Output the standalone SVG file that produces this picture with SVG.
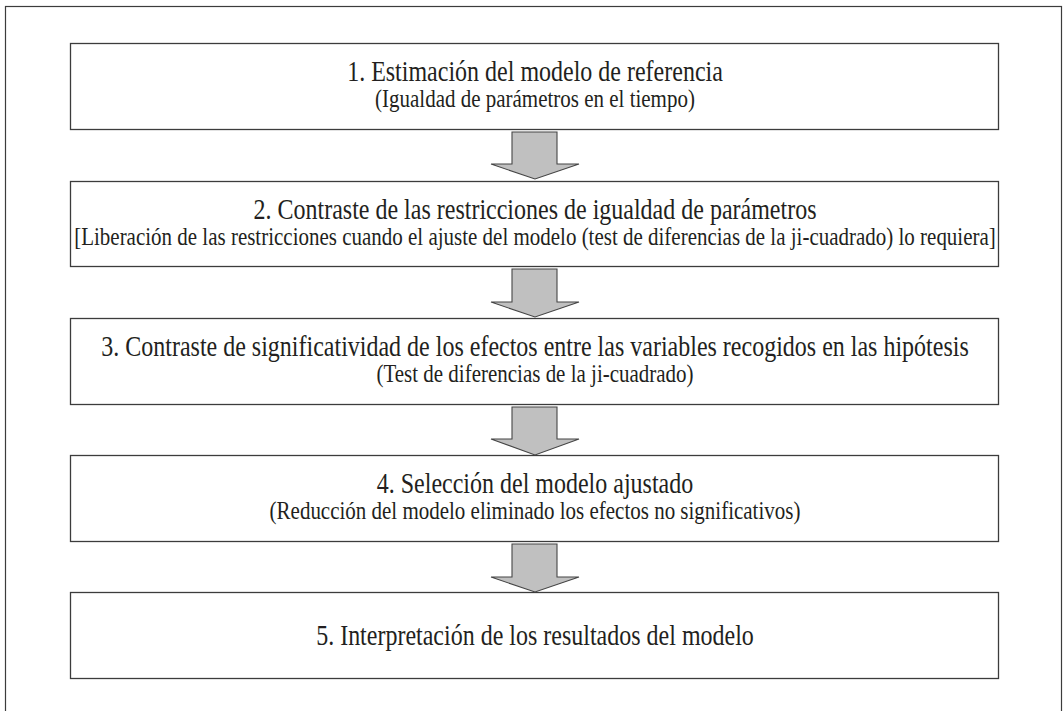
<svg xmlns="http://www.w3.org/2000/svg" width="1064" height="711" viewBox="0 0 1064 711">
<style>
.frame{fill:#fff;stroke:#3c3c3c;stroke-width:1.2}
.box{fill:#fff;stroke:#3c3c3c;stroke-width:1.3}
.arrow{fill:#c0c0c0;stroke:#454545;stroke-width:1.1;stroke-linejoin:miter}
text{font-family:'Liberation Serif','Times New Roman',Times,serif;fill:#231f20;text-anchor:middle}
.h{font-size:24px}
.s{font-size:21px}
</style>
<rect class="frame" x="5.5" y="6.5" width="1056" height="720"/>
<g id="node1">
<rect class="box" x="70.5" y="43.5" width="928" height="86"/>
<text class="h" transform="translate(535,81) scale(1,1.2)">1. Estimación del modelo de referencia</text>
<text class="s" transform="translate(535,107) scale(1,1.15)">(Igualdad de parámetros en el tiempo)</text>
</g>
<g id="node2">
<rect class="box" x="70.5" y="181.5" width="928" height="85"/>
<text class="h" transform="translate(535,219) scale(1,1.2)">2. Contraste de las restricciones de igualdad de parámetros</text>
<text class="s" transform="translate(535,245) scale(1,1.15)">[Liberación de las restricciones cuando el ajuste del modelo (test de diferencias de la ji-cuadrado) lo requiera]</text>
</g>
<g id="node3">
<rect class="box" x="70.5" y="318.5" width="928" height="86"/>
<text class="h" transform="translate(535,356) scale(1,1.2)">3. Contraste de significatividad de los efectos entre las variables recogidos en las hipótesis</text>
<text class="s" transform="translate(535,382) scale(1,1.15)">(Test de diferencias de la ji-cuadrado)</text>
</g>
<g id="node4">
<rect class="box" x="70.5" y="455.5" width="928" height="86"/>
<text class="h" transform="translate(535,493) scale(1,1.2)">4. Selección del modelo ajustado</text>
<text class="s" transform="translate(535,519) scale(1,1.15)">(Reducción del modelo eliminado los efectos no significativos)</text>
</g>
<g id="node5">
<rect class="box" x="70.5" y="592.5" width="928" height="86"/>
<text class="h" transform="translate(535,645) scale(1,1.2)">5. Interpretación de los resultados del modelo</text>
</g>
<g id="connectors">
<polygon class="arrow" points="512,132 557,132 557,164 579,164 535,179 491,164 512,164"/>
<polygon class="arrow" points="512,269 557,269 557,302 579,302 535,317 491,302 512,302"/>
<polygon class="arrow" points="512,407 557,407 557,439 579,439 535,455 491,439 512,439"/>
<polygon class="arrow" points="512,544 557,544 557,577 579,577 535,592 491,577 512,577"/>
</g>
</svg>
